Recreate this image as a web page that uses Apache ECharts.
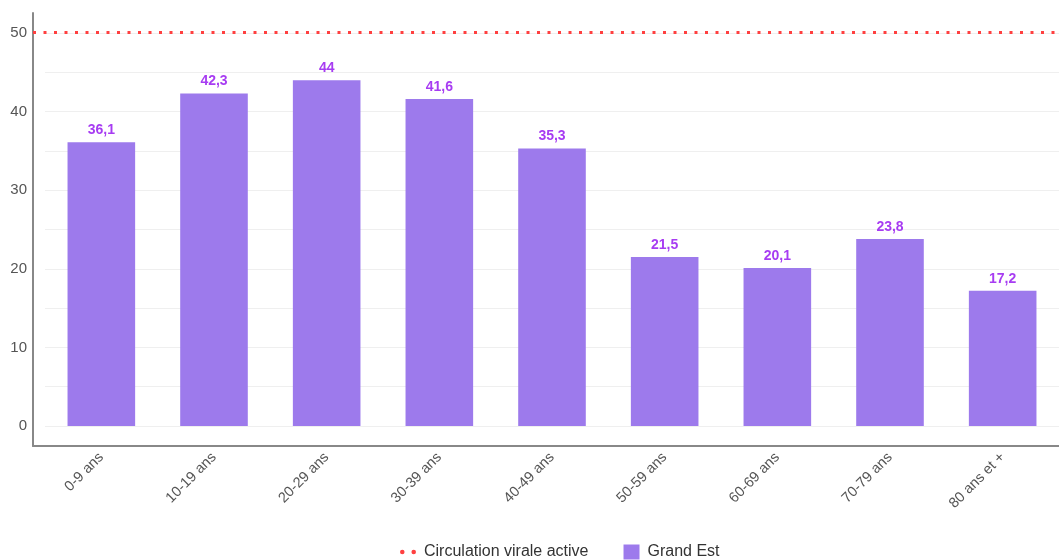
<!DOCTYPE html>
<html><head><meta charset="utf-8">
<script src="https://cdn.jsdelivr.net/npm/echarts@6/dist/echarts.min.js"></script>
<style>html,body{margin:0;padding:0;background:#fff}#c{width:1059px;height:560px}</style>
</head><body><div id="c"></div>
<script>
const categories = ['0-9 ans','10-19 ans','20-29 ans','30-39 ans','40-49 ans','50-59 ans','60-69 ans','70-79 ans','80 ans et +'];
const values = [36.1, 42.3, 44, 41.6, 35.3, 21.5, 20.1, 23.8, 17.2];
const thresholdValue = 50;
const yTicks = [0, 10, 20, 30, 40, 50];

const chart = echarts.init(document.getElementById('c'));
const font = 'Liberation Sans, Arial, sans-serif';
chart.setOption({
  animation: false,
  grid: [
    {left: 45, right: 0, top: 33, bottom: 134},
    {left: 33, right: 0, top: 13, bottom: 114}
  ],
  xAxis: [
    {gridIndex: 0, type: 'category', data: categories, offset: 20,
     axisLine: {show: false}, axisTick: {show: false},
     axisLabel: {rotate: 45, color: '#555', fontSize: 14.5, fontFamily: font, margin: 9, interval: 0}},
    {gridIndex: 1, type: 'category', data: categories,
     axisLine: {show: true, onZero: false, lineStyle: {color: '#888', width: 2}}, axisTick: {show: false}, axisLabel: {show: false}}
  ],
  yAxis: [
    {gridIndex: 0, type: 'value', min: 0, max: 50, interval: 5,
     axisLine: {show: false}, axisTick: {show: false},
     splitLine: {show: true, lineStyle: {color: '#efefef', width: 1}},
     axisLabel: {color: '#555', fontSize: 15, fontFamily: font, margin: 18,
       formatter: v => yTicks.includes(v) ? String(v) : ''}},
    {gridIndex: 1, type: 'value', min: -2.5, max: 52.5, interval: 2.5,
     axisLine: {show: true, onZero: false, lineStyle: {color: '#888', width: 2}}, axisTick: {show: false},
     splitLine: {show: false}, axisLabel: {show: false}}
  ],
  legend: {
    bottom: -5, left: 395, itemGap: 35, itemWidth: 16, itemHeight: 15,
    textStyle: {color: '#333', fontSize: 16, fontFamily: font, padding: [0, 0, 0, 3]},
    data: [
      {name: 'Circulation virale active', icon: 'path://M0,4 a2,2 0 1,0 4,0 a2,2 0 1,0 -4,0 M10,4 a2,2 0 1,0 4,0 a2,2 0 1,0 -4,0', itemStyle: {color: '#ff4040'}},
      {name: 'Grand Est', icon: 'rect'}
    ]
  },
  series: [
    {name: 'Grand Est', type: 'bar', xAxisIndex: 0, yAxisIndex: 0, data: values, barWidth: '60%',
     itemStyle: {color: '#9d7aec'},
     label: {show: true, position: 'top', distance: 5, color: '#a73cf2', fontWeight: 'bold', fontSize: 14, fontFamily: font,
       formatter: p => String(p.value).replace('.', ',')}},
    {name: 'Circulation virale active', type: 'line', xAxisIndex: 1, yAxisIndex: 1, data: [],
     itemStyle: {color: '#ff4040'}, lineStyle: {color: '#ff4040'},
     markLine: {symbol: 'none', silent: true, label: {show: false},
       lineStyle: {color: '#ff4040', type: [3, 7.5], width: 3, cap: 'butt'},
       data: [{yAxis: thresholdValue}]}}
  ]
});
</script></body></html>
